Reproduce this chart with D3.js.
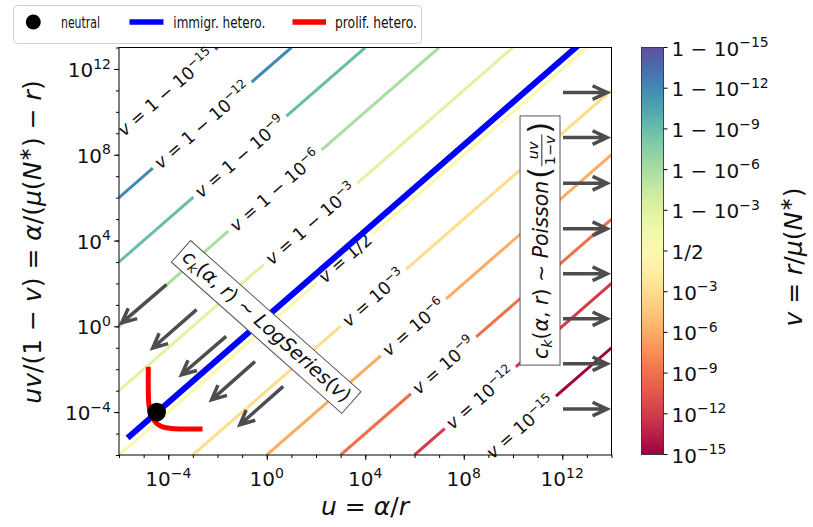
<!DOCTYPE html>
<html>
<head>
<meta charset="utf-8">
<script src="https://cdn.jsdelivr.net/npm/d3@7"></script>
<style>
    body { margin: 0; background: #fff; }
    svg text { white-space: pre; fill: #111; }
</style>
</head>
<body>
<svg id="chart" width="813" height="527"></svg>
<script>
// contour levels, log10 of v/(1-v)  (v = 1e-15 ... 1/2 ... 1-1e-15)
var levelExp = [-15, -12, -9, -6, -3, 0, 3, 6, 9, 12, 15];
// log10(u) at the centre of each inline contour label
var labelLogU = [10.3, 8.67, 7.18, 5.96, 4.33, 3.18, 1.78, 0.33, -1.09, -2.62, -4.1];

// labelled decades on the axes
var xMajor = [-4, 0, 4, 8, 12];
var yMajor = [-4, 0, 4, 8, 12];

// immigration heterogeneity line (log10 u, log10 y)
var blueLogU = [-5.56, 12.55];
var blueLogY = [-5.11, 13.0];

// proliferation heterogeneity curve
var redLogU = [-4.81, -4.81, -4.79, -4.74, -4.62, -4.45, -4.2, -3.9, -3.5, -2.71];
var redLogY = [-2.0, -3.0, -3.6, -3.97, -4.3, -4.55, -4.7, -4.76, -4.785, -4.79];

// neutral point
var neutralLogU = -4.47;
var neutralLogY = -4.0;

// arrows towards the origin (LogSeries region)
var leftArrowFromU = [-4.07, -2.85, -1.65, -0.48, 0.67];
var leftArrowFromY = [1.95, 0.78, -0.47, -1.64, -2.80];
var leftArrowToU = [-5.89, -4.63, -3.46, -2.24, -1.09];
var leftArrowToY = [0.16, -1.01, -2.26, -3.43, -4.59];

// arrows to the right (Poisson region)
var rightArrowY = [10.9, 8.8, 6.67, 4.55, 2.45, 0.35, -1.75, -3.86];
var rightArrowU = [12.03, 13.82];

// box annotations (log10 positions of their centres)
var logSeriesAt = [0, 0];
var poissonAt = [11.13, 4.0];

var MATH = '"DejaVu Sans", "Liberation Sans", sans-serif';

var svg = d3.select('#chart');
var x = d3.scaleLog().domain([1e-6, 1e14]).range([119, 611.5]);
var y = d3.scaleLog().domain([1e-6, 1e13]).range([455, 47.5]);
var px = function (lu) { return x(Math.pow(10, lu)); };
var py = function (ly) { return y(Math.pow(10, ly)); };

// append tspans: segs = [[text, style]], style has i (italic), ^ (sup), _ (sub)
function math(text, segs, fs) {
    var shift = 0;
    text.attr('font-family', MATH);
    segs.forEach(function (s) {
        var st = s[1] || '';
        var t = text.append('tspan').text(s[0]);
        var target = 0, size = fs;
        if (st.indexOf('^') >= 0) { target = -0.42 * fs; size = 0.7 * fs; }
        if (st.indexOf('_') >= 0) { target = 0.2 * fs; size = 0.7 * fs; }
        t.attr('font-size', size).attr('font-style', st.indexOf('i') >= 0 ? 'italic' : 'normal');
        if (target !== shift) { t.attr('dy', target - shift); shift = target; }
    });
    return text;
}

function levelSegs(e, withV) {
    var head = withV ? [['v', 'i'], [' = ', '']] : [];
    if (e < 0) return head.concat([['10', ''], ['\u2212' + (-e), '^']]);
    if (e === 0) return head.concat([['1/2', '']]);
    return head.concat([['1 \u2212 10', ''], ['\u2212' + e, '^']]);
}

var defs = svg.append('defs');
defs.append('clipPath').attr('id', 'plotclip')
    .append('rect').attr('x', 119).attr('y', 47.5).attr('width', 492.5).attr('height', 407.5);

var gContour = svg.append('g').attr('clip-path', 'url(#plotclip)');
var gLabels = svg.append('g');
var gBlue = svg.append('g').attr('clip-path', 'url(#plotclip)');
var gMarks = svg.append('g');
var gArrows = svg.append('g');
var gBoxes = svg.append('g');

// contour lines with inline labels
var labelFs = 17.5;
levelExp.forEach(function (e, i) {
    var color = d3.interpolateSpectral((e + 15) / 30);
    var lu0 = Math.max(-6, -6 - e), lu1 = Math.min(14, 13 - e);
    var p0 = [px(lu0), py(lu0 + e)], p1 = [px(lu1), py(lu1 + e)];
    var c = [px(labelLogU[i]), py(labelLogU[i] + e)];
    var ang = Math.atan2(p1[1] - p0[1], p1[0] - p0[0]);
    var dir = [Math.cos(ang), Math.sin(ang)];
    var L = Math.hypot(p1[0] - p0[0], p1[1] - p0[1]);

    var t = gLabels.append('text')
        .attr('transform', 'translate(' + c[0] + ',' + c[1] + ') rotate(' + (ang * 180 / Math.PI) + ')')
        .attr('text-anchor', 'middle')
        .attr('y', 0.36 * labelFs)
        .attr('font-size', labelFs);
    math(t, levelSegs(e, true), labelFs);
    var half = t.node().getComputedTextLength() / 2 + 5;

    var tc = (c[0] - p0[0]) * dir[0] + (c[1] - p0[1]) * dir[1];
    var segs = [];
    if (tc - half > 0) segs.push([0, tc - half]);
    if (tc + half < L) segs.push([tc + half, L]);
    segs.forEach(function (s) {
        gContour.append('line')
            .attr('x1', p0[0] + dir[0] * s[0]).attr('y1', p0[1] + dir[1] * s[0])
            .attr('x2', p0[0] + dir[0] * s[1]).attr('y2', p0[1] + dir[1] * s[1])
            .attr('stroke', color).attr('stroke-width', 3);
    });
});

// immigration heterogeneity
gBlue.append('line')
    .attr('x1', px(blueLogU[0])).attr('y1', py(blueLogY[0]))
    .attr('x2', px(blueLogU[1])).attr('y2', py(blueLogY[1]))
    .attr('stroke', '#0000ff').attr('stroke-width', 6).attr('stroke-linecap', 'square');

// proliferation heterogeneity
var redLine = d3.line().curve(d3.curveCatmullRom)
    .x(function (d) { return px(d[0]); }).y(function (d) { return py(d[1]); });
gMarks.append('path')
    .attr('d', redLine(d3.zip(redLogU, redLogY)))
    .attr('fill', 'none').attr('stroke', '#ff0000').attr('stroke-width', 5).attr('stroke-linecap', 'square');

gMarks.append('circle')
    .attr('cx', px(neutralLogU)).attr('cy', py(neutralLogY)).attr('r', 9.3).attr('fill', '#000');

// arrows
function arrow(x0, y0, x1, y1) {
    var a = Math.atan2(y1 - y0, x1 - x0), hl = 16, spread = 0.44;
    var h1 = [x1 - hl * Math.cos(a - spread), y1 - hl * Math.sin(a - spread)];
    var h2 = [x1 - hl * Math.cos(a + spread), y1 - hl * Math.sin(a + spread)];
    gArrows.append('path')
        .attr('d', 'M' + x0 + ',' + y0 + 'L' + x1 + ',' + y1 +
            'M' + h1[0] + ',' + h1[1] + 'L' + x1 + ',' + y1 + 'L' + h2[0] + ',' + h2[1])
        .attr('fill', 'none').attr('stroke', '#4d4d4d').attr('stroke-width', 3.5)
        .attr('stroke-linejoin', 'miter');
}
leftArrowFromU.forEach(function (u, i) {
    arrow(px(u), py(leftArrowFromY[i]), px(leftArrowToU[i]), py(leftArrowToY[i]));
});
rightArrowY.forEach(function (v) {
    arrow(px(rightArrowU[0]), py(v), px(rightArrowU[1]), py(v));
});

// LogSeries box
var boxFs = 19.5;
var gLog = gBoxes.append('g')
    .attr('transform', 'translate(' + px(logSeriesAt[0]) + ',' + py(logSeriesAt[1]) + ') rotate(41.6)');
var rLog = gLog.append('rect');
var tLog = gLog.append('text').attr('text-anchor', 'middle').attr('y', 0.33 * boxFs).attr('font-size', boxFs);
math(tLog, [['c', 'i'], ['k', '_i'], ['(', ''], ['\u03b1', 'i'], [', ', ''], ['r', 'i'], [') \u223c ', ''],
    ['LogSeries', 'i'], ['(', ''], ['v', 'i'], [')', '']], boxFs);
var bb = tLog.node().getBBox();
rLog.attr('x', bb.x - 5).attr('y', bb.y - 2).attr('width', bb.width + 10).attr('height', bb.height + 4)
    .attr('fill', '#fff').attr('stroke', '#555').attr('stroke-width', 1);

// Poisson box
var poFs = 20.5;
var gPo = gBoxes.append('g')
    .attr('transform', 'translate(' + px(poissonAt[0]) + ',' + py(poissonAt[1]) + ') rotate(-90)');
var rPo = gPo.append('rect');
var inner = gPo.append('g');
var t1 = inner.append('text').attr('font-size', poFs).attr('y', 0.33 * poFs);
math(t1, [['c', 'i'], ['k', '_i'], ['(', ''], ['\u03b1', 'i'], [', ', ''], ['r', 'i'], [') \u223c ', ''],
    ['Poisson', 'i']], poFs);
var w = t1.node().getComputedTextLength() + 2;
var lp = inner.append('text').attr('font-family', MATH).attr('x', w).attr('y', 0.45 * poFs)
    .attr('font-size', poFs * 1.45).text('(');
w += lp.node().getComputedTextLength() + 1;
var fracFs = 0.7 * poFs;
var num = inner.append('text').attr('font-size', fracFs).attr('y', -3);
math(num, [['uv', 'i']], fracFs);
var den = inner.append('text').attr('font-size', fracFs).attr('y', 0.78 * fracFs + 3);
math(den, [['1\u2212', ''], ['v', 'i']], fracFs);
var fw = Math.max(num.node().getComputedTextLength(), den.node().getComputedTextLength()) + 2;
num.attr('x', w + fw / 2).attr('text-anchor', 'middle');
den.attr('x', w + fw / 2).attr('text-anchor', 'middle');
inner.append('line').attr('x1', w).attr('x2', w + fw).attr('y1', 1).attr('y2', 1)
    .attr('stroke', '#111').attr('stroke-width', 0.9);
w += fw + 1;
var rp = inner.append('text').attr('font-family', MATH).attr('x', w).attr('y', 0.45 * poFs)
    .attr('font-size', poFs * 1.45).text(')');
w += rp.node().getComputedTextLength();
inner.attr('transform', 'translate(' + (-w / 2) + ',0)');
var bp = inner.node().getBBox();
rPo.attr('x', -w / 2 - 6).attr('y', bp.y - 2).attr('width', w + 12).attr('height', bp.height + 4)
    .attr('fill', '#fff').attr('stroke', '#555').attr('stroke-width', 1);

// axes
var decadesX = d3.range(-6, 15).map(function (d) { return Math.pow(10, d); });
var decadesY = d3.range(-6, 14).map(function (d) { return Math.pow(10, d); });
var tickFs = 20;

function styleAxis(g) {
    g.select('.domain').remove();
    g.selectAll('line').attr('stroke', '#000');
}
svg.append('g').attr('transform', 'translate(0,455)')
    .call(d3.axisBottom(x).tickValues(decadesX).tickSize(3).tickSizeOuter(0).tickFormat(''))
    .call(styleAxis);
svg.append('g').attr('transform', 'translate(0,455)')
    .call(d3.axisBottom(x).tickValues(xMajor.map(function (d) { return Math.pow(10, d); }))
        .tickSize(5).tickSizeOuter(0).tickFormat(''))
    .call(styleAxis);
svg.append('g').attr('transform', 'translate(119,0)')
    .call(d3.axisLeft(y).tickValues(decadesY).tickSize(3).tickSizeOuter(0).tickFormat(''))
    .call(styleAxis);
svg.append('g').attr('transform', 'translate(119,0)')
    .call(d3.axisLeft(y).tickValues(yMajor.map(function (d) { return Math.pow(10, d); }))
        .tickSize(5).tickSizeOuter(0).tickFormat(''))
    .call(styleAxis);

xMajor.forEach(function (e) {
    var t = svg.append('text').attr('x', px(e)).attr('y', 486).attr('text-anchor', 'middle').attr('font-size', tickFs);
    math(t, [['10', ''], [e < 0 ? '\u2212' + (-e) : '' + e, '^']], tickFs);
});
yMajor.forEach(function (e) {
    var t = svg.append('text').attr('x', 111).attr('y', py(e) + 8).attr('text-anchor', 'end').attr('font-size', tickFs);
    math(t, [['10', ''], [e < 0 ? '\u2212' + (-e) : '' + e, '^']], tickFs);
});

// frame
svg.append('rect').attr('x', 119).attr('y', 47.5).attr('width', 492.5).attr('height', 407.5)
    .attr('fill', 'none').attr('stroke', '#000').attr('stroke-width', 1);

// axis titles
var titleFs = 25;
math(svg.append('text').attr('x', 365).attr('y', 515).attr('text-anchor', 'middle').attr('font-size', titleFs),
    [['u', 'i'], [' = ', ''], ['\u03b1', 'i'], ['/', ''], ['r', 'i']], titleFs);
math(svg.append('text').attr('transform', 'translate(32,242) rotate(-90)').attr('y', 0.36 * titleFs)
    .attr('text-anchor', 'middle').attr('font-size', titleFs),
    [['uv', 'i'], ['/(1 \u2212 ', ''], ['v', 'i'], [') = ', ''], ['\u03b1', 'i'], ['/(', ''], ['\u03bc', 'i'],
        ['(', ''], ['N', 'i'], ['\u2217', '^'], [') \u2212 ', ''], ['r', 'i'], [')', '']], titleFs);

// colorbar
var cbX = 641.5, cbW = 22;
var cb = d3.scaleLinear().domain([-15, 15]).range([454.5, 47.5]);
var grad = defs.append('linearGradient').attr('id', 'cbg')
    .attr('x1', 0).attr('y1', 1).attr('x2', 0).attr('y2', 0);
d3.range(0, 1.0001, 0.05).forEach(function (t) {
    grad.append('stop').attr('offset', t).attr('stop-color', d3.interpolateSpectral(t));
});
svg.append('rect').attr('x', cbX).attr('y', cb(15)).attr('width', cbW).attr('height', cb(-15) - cb(15))
    .attr('fill', 'url(#cbg)').attr('stroke', '#222').attr('stroke-width', 0.8);
levelExp.forEach(function (e) {
    svg.append('line').attr('x1', cbX + cbW).attr('x2', cbX + cbW + 4)
        .attr('y1', cb(e)).attr('y2', cb(e)).attr('stroke', '#000');
    var t = svg.append('text').attr('x', cbX + cbW + 8).attr('y', cb(e) + 8).attr('font-size', tickFs);
    math(t, levelSegs(e, false), tickFs);
});
math(svg.append('text').attr('transform', 'translate(793,257) rotate(-90)').attr('y', 0.36 * titleFs)
    .attr('text-anchor', 'middle').attr('font-size', titleFs),
    [['v', 'i'], [' = ', ''], ['r', 'i'], ['/', ''], ['\u03bc', 'i'], ['(', ''], ['N', 'i'], ['\u2217', '^'], [')', '']],
    titleFs);

// legend
var lg = svg.append('g');
lg.append('rect').attr('x', 13.5).attr('y', 5.5).attr('width', 408).attr('height', 38).attr('rx', 4)
    .attr('fill', '#fff').attr('stroke', '#d0d0d0');
lg.append('circle').attr('cx', 33.3).attr('cy', 22).attr('r', 7.5).attr('fill', '#000');
lg.append('line').attr('x1', 129.5).attr('x2', 163.5).attr('y1', 22).attr('y2', 22)
    .attr('stroke', '#0000ff').attr('stroke-width', 5.3);
lg.append('line').attr('x1', 292.5).attr('x2', 326).attr('y1', 22).attr('y2', 22)
    .attr('stroke', '#ff0000').attr('stroke-width', 5.3);
var legendText = ['neutral', 'immigr. hetero.', 'prolif. hetero.'];
var legendX = [61, 173.3, 335];
var legendW = [39, 92, 82];
legendText.forEach(function (s, i) {
    lg.append('text').attr('font-family', MATH).attr('x', legendX[i]).attr('y', 28).attr('font-size', 16)
        .attr('textLength', legendW[i]).attr('lengthAdjust', 'spacingAndGlyphs').text(s);
});
</script>
</body>
</html>
